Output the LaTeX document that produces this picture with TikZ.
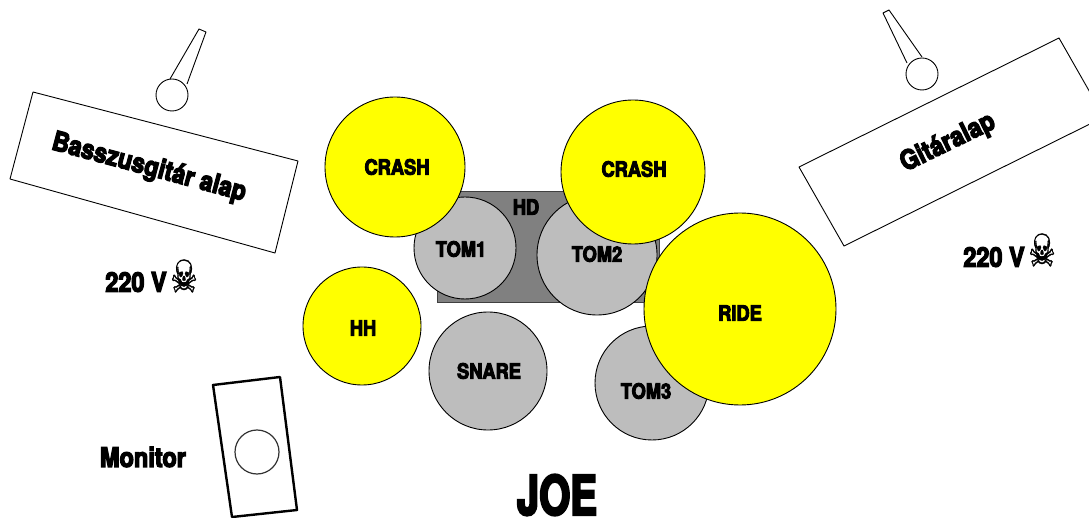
\documentclass[tikz,border=0pt]{standalone}
\usepackage{fontspec}
\usepackage{graphicx}
\newfontfamily\heavybase[BoldFeatures={FakeStretch=.87,FakeBold=4.5}]{TeX Gyre Heros}
\newcommand{\heavy}{\heavybase\bfseries}
\newfontfamily\skullfont[FakeBold=1]{DejaVu Sans}
\definecolor{cymbalyellow}{rgb}{1,1,0}
\definecolor{tomgrey}{rgb}{0.74,0.74,0.74}
\definecolor{hdgrey}{rgb}{0.5,0.5,0.5}
\tikzset{
  x=1pt,y=-1pt,
  outline/.style={draw=black,line width=0.9pt},
  cymbal/.style={circle,outline,fill=cymbalyellow,inner sep=0pt,text=black},
  tomdrum/.style={circle,outline,fill=tomgrey,inner sep=0pt},
  label/.style={font=\heavy\fontsize{27}{27}\selectfont,inner sep=0pt,text=black},
  small/.style={font=\heavy\fontsize{21}{21}\selectfont,inner sep=0pt,text=black},
  skull/.style={font=\skullfont\fontsize{36}{36}\selectfont,inner sep=0pt,text=black},
  boxline/.style={draw=black,line width=0.9pt,fill=white,line join=round},
}
\begin{document}
\begin{tikzpicture}
\useasboundingbox (0,0) rectangle (1089,518);
\clip (0,0) rectangle (1089,518);
\fill[white] (0,0) rectangle (1089,518);
% drum riser
\draw[line width=1pt,draw=black!75,fill=hdgrey] (437,192) rectangle (659,303);
% toms
\node[tomdrum,minimum size=102pt] (tomone) at (465,248) {};
\node[tomdrum,minimum size=120pt] (tomtwo) at (597,255) {};
\node[tomdrum,minimum size=118pt] (snare) at (488,371) {};
\node[tomdrum,minimum size=114pt] (tomthree) at (652,383) {};
% cymbals
\node[cymbal,minimum size=140pt] (crashone) at (395,167) {};
\node[cymbal,minimum size=144pt] (crashtwo) at (633,172) {};
\node[cymbal,minimum size=192pt] (ride) at (740,309) {};
\node[cymbal,minimum size=118pt] (hh) at (362,326) {};
% labels
\node[small] (lcrashone) at (397,167) {CRASH};
\node[small] (lcrashtwo) at (634,169) {CRASH};
\node[small] (lhd) at (526,207) {HD};
\node[small] (ltomone) at (461,249) {TOM1};
\node[small] (ltomtwo) at (597,254) {TOM2};
\node[small] (lhh) at (363,328) {HH};
\node[small] (lsnare) at (489,371) {SNARE};
\node[small] (ltomthree) at (646,391) {TOM3};
\node[small] (lride) at (740,313) {RIDE};
% left cabinet and mic
\draw[boxline] (33,92) -- (298,161) -- (275,253) -- (10,179) -- cycle;
\node[label,rotate=-15] (lbass) at (149,168) {Basszusgitár alap};
\node[circle,outline,fill=white,minimum size=32pt,inner sep=0pt] (micl) at (172,95) {};
\draw[boxline,fill=none] (170,79) -- (199,29) -- (206,32) -- (187,84);
% right cabinet and mic
\draw[boxline] (799,167) -- (1059,38) -- (1104,117) -- (844,246) -- cycle;
\node[label,rotate=26] (lguitar) at (948,143) {Gitáralap};
\node[circle,outline,fill=white,minimum size=32pt,inner sep=0pt] (micr) at (922,74) {};
\draw[boxline,fill=none] (907,63) -- (883,13) -- (889,10) -- (922,57);
% voltage
\node[label] (vl) at (136,282) {220 V};
\node[skull] (sl) at (184,276) {\scalebox{0.85}[1.25]{☠}};
\node[label] (vr) at (994,257) {220 V};
\node[skull] (sr) at (1042,250) {\scalebox{0.85}[1.25]{☠}};
% monitor
\draw[draw=black,line width=2.4pt,line join=round] (213,385) -- (280,377) -- (297,510) -- (232,517) -- cycle;
\node[circle,draw=black!80,line width=1.2pt,minimum size=44pt,inner sep=0pt] (speaker) at (257,452) {};
\node[label] (lmon) at (143,457) {Monitor};
\node[font=\heavy\fontsize{46}{46}\selectfont,inner sep=0pt] (joe) at (557,495) {\scalebox{1}[1.18]{JOE}};
\end{tikzpicture}
\end{document}
